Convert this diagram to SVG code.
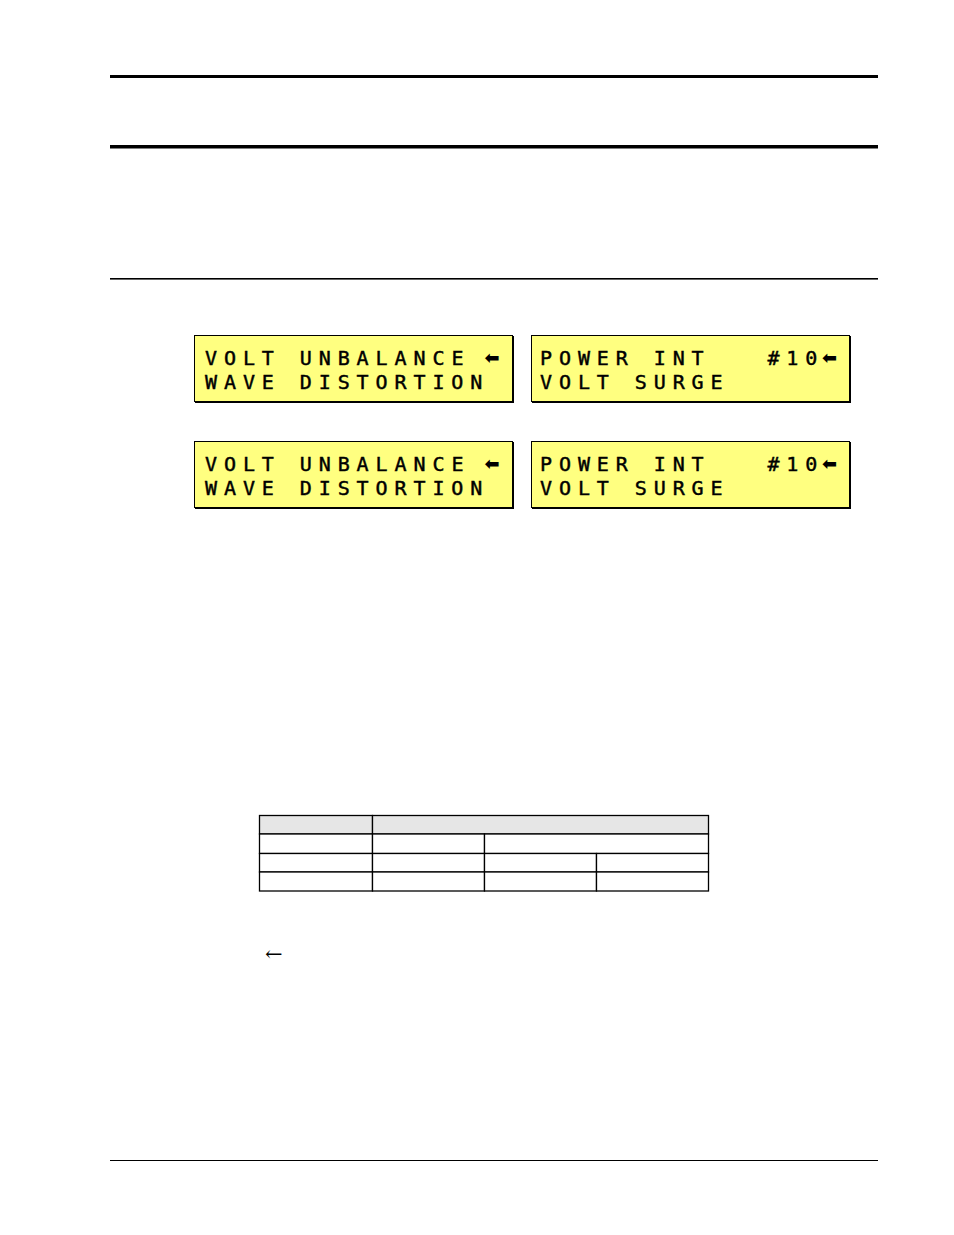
<svg xmlns="http://www.w3.org/2000/svg" width="954" height="1235" viewBox="0 0 954 1235">
<style>
.lcd{fill:#ffff80;stroke:#000;stroke-width:1}
.sh{fill:none;stroke:#000;stroke-width:2}
.t{font-family:"DejaVu Sans Mono","Liberation Mono",monospace;font-size:20px;letter-spacing:6.91px;fill:#000;stroke:#000;stroke-width:0.45;white-space:pre}
.z{letter-spacing:0}
.ar{font-family:"DejaVu Sans","Noto Sans",sans-serif;font-size:18px;font-weight:bold;fill:#000;text-anchor:middle}
.cell{fill:#fff;stroke:#000;stroke-width:1.3}
.hd{fill:#e6e6e6;stroke:#000;stroke-width:1.3}
</style>
<rect width="954" height="1235" fill="#fff"/>
<g id="rules">
<rect x="110" y="75" width="768" height="3" fill="#000"/>
<rect x="110" y="145" width="768" height="3.5" fill="#000"/>
<rect x="110" y="278" width="768" height="1.6" fill="#000"/>
<rect x="110" y="1160" width="768" height="1" fill="#000"/>
</g>
<g id="lcd1">
<rect class="lcd" x="194.5" y="335.5" width="318" height="66"/>
<polyline class="sh" points="513,336 513,402 195,402"/>
<text class="t" x="205" y="365" xml:space="preserve">VOLT UNBALANC<tspan class="z">E</tspan></text>
<text class="ar" x="492" y="364">⬅</text>
<text class="t" x="205" y="389" xml:space="preserve">WAVE DISTORTIO<tspan class="z">N</tspan></text>
</g>
<g id="lcd2">
<rect class="lcd" x="531.5" y="335.5" width="318" height="66"/>
<polyline class="sh" points="850,336 850,402 532,402"/>
<text class="t" x="540" y="365" xml:space="preserve">POWER INT   #1<tspan class="z">0</tspan></text>
<text class="ar" x="829.5" y="364">⬅</text>
<text class="t" x="540" y="389" xml:space="preserve">VOLT SURG<tspan class="z">E</tspan></text>
</g>
<g id="lcd3">
<rect class="lcd" x="194.5" y="441.5" width="318" height="66"/>
<polyline class="sh" points="513,442 513,508 195,508"/>
<text class="t" x="205" y="470.5" xml:space="preserve">VOLT UNBALANC<tspan class="z">E</tspan></text>
<text class="ar" x="492" y="469.5">⬅</text>
<text class="t" x="205" y="494.5" xml:space="preserve">WAVE DISTORTIO<tspan class="z">N</tspan></text>
</g>
<g id="lcd4">
<rect class="lcd" x="531.5" y="441.5" width="318" height="66"/>
<polyline class="sh" points="850,442 850,508 532,508"/>
<text class="t" x="540" y="470.5" xml:space="preserve">POWER INT   #1<tspan class="z">0</tspan></text>
<text class="ar" x="829.5" y="469.5">⬅</text>
<text class="t" x="540" y="494.5" xml:space="preserve">VOLT SURG<tspan class="z">E</tspan></text>
</g>
<g id="table">
<rect class="hd" x="259.5" y="815.5" width="113" height="18.5"/>
<rect class="hd" x="372.5" y="815.5" width="336" height="18.5"/>
<rect class="cell" x="259.5" y="834" width="113" height="19.5"/>
<rect class="cell" x="372.5" y="834" width="112" height="19.5"/>
<rect class="cell" x="484.5" y="834" width="224" height="19.5"/>
<rect class="cell" x="259.5" y="853.5" width="113" height="18.5"/>
<rect class="cell" x="372.5" y="853.5" width="112" height="18.5"/>
<rect class="cell" x="484.5" y="853.5" width="112" height="18.5"/>
<rect class="cell" x="596.5" y="853.5" width="112" height="18.5"/>
<rect class="cell" x="259.5" y="872" width="113" height="19"/>
<rect class="cell" x="372.5" y="872" width="112" height="19"/>
<rect class="cell" x="484.5" y="872" width="112" height="19"/>
<rect class="cell" x="596.5" y="872" width="112" height="19"/>
</g>
<g id="note">
<text x="265" y="961" font-family="DejaVu Serif, serif" font-size="21" fill="#000">←</text>
</g>
</svg>
